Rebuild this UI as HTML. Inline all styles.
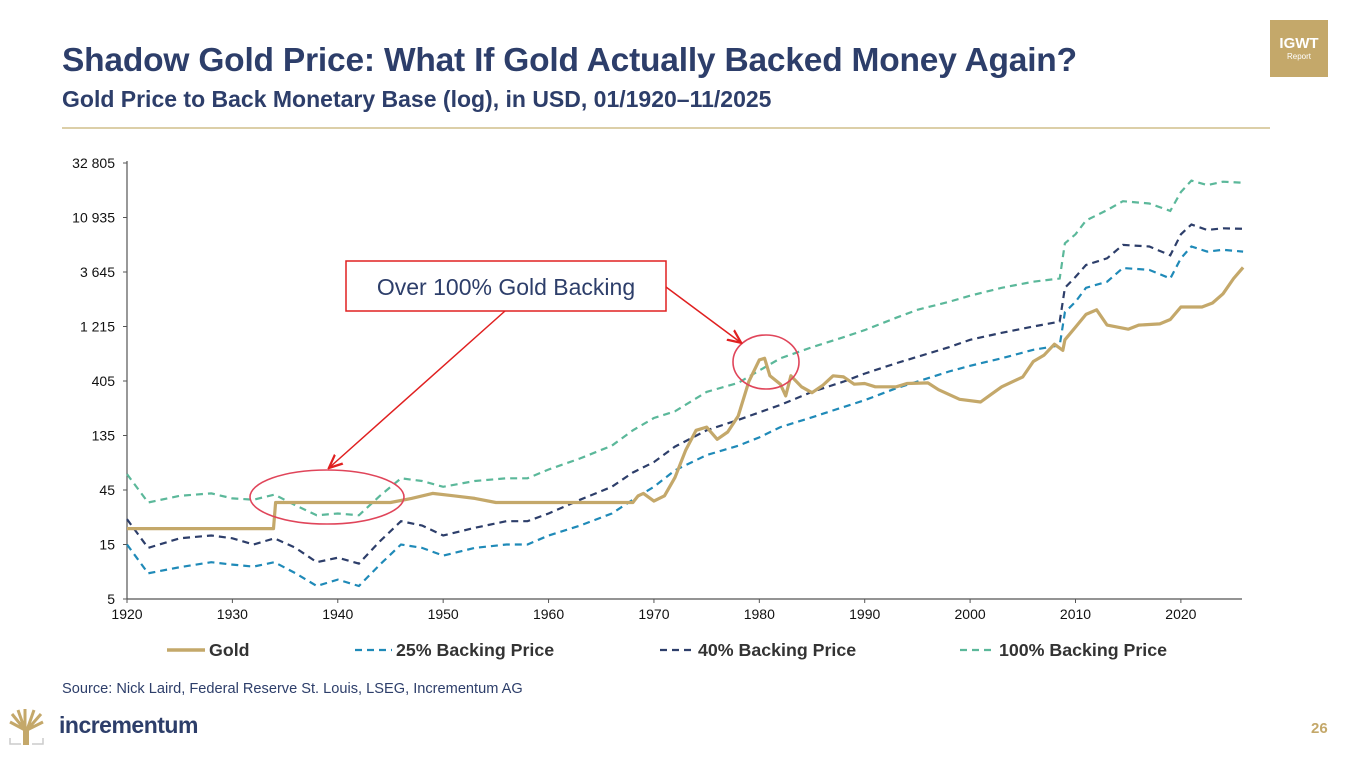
<!DOCTYPE html>
<html><head><meta charset="utf-8">
<style>
body{margin:0;width:1350px;height:760px;background:#fff;overflow:hidden;font-family:"Liberation Sans",Arial,sans-serif;position:relative}
.abs{position:absolute}
</style></head>
<body>
<div class="abs" style="left:62px;top:42px;font-size:33.5px;font-weight:bold;color:#2d3e6a;letter-spacing:-0.2px;white-space:nowrap">Shadow Gold Price: What If Gold Actually Backed Money Again?</div>
<div class="abs" style="left:62px;top:86px;font-size:23px;font-weight:bold;color:#2d3e6a;white-space:nowrap">Gold Price to Back Monetary Base (log), in USD, 01/1920–11/2025</div>
<div class="abs" style="left:62px;top:127px;width:1208px;height:2px;background:#dccfa8"></div>
<div class="abs" style="left:1270px;top:20px;width:58px;height:57px;background:#c4a86a;color:#fff;text-align:center">
  <div style="font-size:15px;font-weight:bold;margin-top:16px;line-height:16px">IGWT</div>
  <div style="font-size:8px;line-height:10px">Report</div>
</div>
<svg class="abs" style="left:0;top:0" width="1350" height="760" id="chart"></svg>
<div class="abs" style="left:62px;top:681px;font-size:14.6px;color:#2d3e6a;white-space:nowrap">Source: Nick Laird, Federal Reserve St. Louis, LSEG, Incrementum AG</div>
<svg class="abs" style="left:8px;top:708px" width="38" height="38">
  <path d="M17 36 L17 22 L4 6 M17 22 L10 2 M17 22 L17 1 M19 22 L26 2 M19 22 L33 6 M17 22 L2 14 M19 22 L35 14" stroke="#c4a86a" stroke-width="3" fill="none"/>
  <rect x="15" y="20" width="6" height="17" fill="#c4a86a"/>
  <path d="M2 30 L2 36 L13 36 M24 36 L35 36 L35 30" stroke="#ccc" stroke-width="1.5" fill="none"/>
</svg>
<div class="abs" style="left:59px;top:712px;font-size:23px;font-weight:bold;color:#2d3e6a;letter-spacing:-0.5px">incrementum</div>
<div class="abs" style="left:1311px;top:720px;font-size:15px;font-weight:bold;color:#c4a86a">26</div>
<script>
const years=[1920,1922,1925,1928,1930,1932,1934,1936,1938,1940,1942,1944,1946,1948,1950,1953,1956,1958,1960,1963,1966,1968,1970,1972,1975,1978,1980,1982,1985,1988,1990,1993,1995,1998,2000,2003,2006,2008.5,2009,2010,2011,2013,2014.5,2017,2019,2020,2021,2022.5,2024,2025.9];
const back100=[62,35,40,42,38,37,41,33,27,28,27,40,57,54,48,54,57,57,68,85,110,150,192,220,325,390,500,640,800,980,1130,1450,1700,2000,2260,2650,3000,3200,6500,7800,10300,12700,15200,14500,12500,18300,23000,21000,22500,22000];
const back40=[25,14,17,18,17,15,17,14,10.5,11.5,10.2,16,24,22,18,21,24,24,28,37,48,64,79,108,150,185,215,250,325,400,470,580,660,800,930,1070,1215,1340,2650,3300,4200,4800,6300,6100,5100,7800,9500,8500,8800,8700];
const back25=[15,8.4,9.5,10.5,10,9.6,10.5,8.4,6.5,7.4,6.5,10,15,14,12,14,15,15,18,22,28,37,48,67,91,110,130,160,195,240,275,350,400,490,550,640,760,830,1620,2000,2650,3000,3950,3800,3200,4800,6100,5500,5700,5500];
const goldYears=[1920,1933.9,1934.1,1945,1947,1949,1951,1953,1955,1968,1968.5,1969,1970,1971,1972,1973,1974,1975,1976,1977,1978,1979,1980,1980.5,1981,1982,1982.5,1983,1984,1985,1986,1987,1988,1989,1990,1991,1993,1994,1996,1997,1999,2001,2002,2003,2005,2006,2007,2008,2008.8,2009,2010,2011,2012,2013,2015,2016,2018,2019,2020,2021,2022,2023,2024,2025,2025.9];
const gold=[20.67,20.67,35,35,38,42,40,38,35,35,40,42,36,40,58,100,150,160,125,145,200,400,620,640,450,380,300,450,360,320,370,450,440,380,385,360,360,385,390,340,280,265,310,360,440,600,680,850,750,930,1200,1550,1700,1250,1150,1250,1280,1400,1800,1800,1800,1950,2350,3200,4000];
const yTicks=[5,15,45,135,405,1215,3645,10935,32805];
const yTickLabels=["5","15","45","135","405","1 215","3 645","10 935","32 805"];
const xTicks=[1920,1930,1940,1950,1960,1970,1980,1990,2000,2010,2020];

const svg=document.getElementById('chart');
const NS='http://www.w3.org/2000/svg';
const X0=127,X1=1242,Y0=599,Y1=163;
const xs=y=>X0+(y-1920)*(X1-X0)/(2025.8-1920);
const ys=v=>Y0-(Math.log(v/5)/Math.log(32805/5))*(Y0-Y1);
function el(t,a){const e=document.createElementNS(NS,t);for(const k in a)e.setAttribute(k,a[k]);svg.appendChild(e);return e;}
function txt(x,y,s,a){const e=el('text',Object.assign({x:x,y:y,'font-family':'Liberation Sans, Arial, sans-serif'},a));e.textContent=s;return e;}

let ax=el('line',{x1:X0,y1:Y1-2,x2:X0,y2:Y0,stroke:'#555','stroke-width':1.2});

ax=el('line',{x1:X0,y1:Y0,x2:X1,y2:Y0,stroke:'#555','stroke-width':1.2});

yTicks.forEach((v,i)=>{
  el('line',{x1:X0-4,y1:ys(v),x2:X0,y2:ys(v),stroke:'#555'});
  const t=txt(115,ys(v)+5,yTickLabels[i],{'font-size':14,'text-anchor':'end',fill:'#111'});
  
  
});
xTicks.forEach(v=>{
  el('line',{x1:xs(v),y1:Y0,x2:xs(v),y2:Y0+4,stroke:'#555'});
  const t=txt(xs(v),Y0+20,String(v),{'font-size':14,'text-anchor':'middle',fill:'#111'});
  
  
});
function path(xa,va){return xa.map((x,i)=>(i?'L':'M')+xs(x).toFixed(1)+' '+ys(va[i]).toFixed(1)).join(' ');}
let p=el('path',{d:path(years,back100),fill:'none',stroke:'#5bb89a','stroke-width':2.2,'stroke-dasharray':'7 5'});

p=el('path',{d:path(years,back40),fill:'none',stroke:'#2d3e6a','stroke-width':2.2,'stroke-dasharray':'7 5'});

p=el('path',{d:path(years,back25),fill:'none',stroke:'#1f8ab8','stroke-width':2.2,'stroke-dasharray':'7 5'});

p=el('path',{d:path(goldYears,gold),fill:'none',stroke:'#c4a86a','stroke-width':3.2,'stroke-linejoin':'round'});


let a=el('ellipse',{cx:327,cy:497,rx:77,ry:27,fill:'none',stroke:'#e0455a','stroke-width':1.6});

a=el('ellipse',{cx:766,cy:362,rx:33,ry:27,fill:'none',stroke:'#e0455a','stroke-width':1.6});

el('defs',{}).innerHTML='<marker id="ah" markerWidth="10" markerHeight="10" refX="8" refY="5" orient="auto"><path d="M0 1 L9 5 L0 9" fill="none" stroke="#e02020" stroke-width="1.5"/></marker>';
a=el('line',{x1:505,y1:311,x2:330,y2:467,stroke:'#e02020','stroke-width':1.5,'marker-end':'url(#ah)'});

a=el('line',{x1:666,y1:287,x2:740,y2:342,stroke:'#e02020','stroke-width':1.5,'marker-end':'url(#ah)'});

a=el('rect',{x:346,y:261,width:320,height:50,fill:'#fff',stroke:'#e02020','stroke-width':1.5});

a=txt(506,295,'Over 100% Gold Backing',{'font-size':23,'text-anchor':'middle',fill:'#2d3e6a'});


const leg=[['Gold','#c4a86a',167,209,false],['25% Backing Price','#1f8ab8',355,396,true],['40% Backing Price','#2d3e6a',660,698,true],['100% Backing Price','#5bb89a',960,999,true]];
leg.forEach(l=>{
  const ln=el('line',{x1:l[2],y1:650,x2:l[3]-4,y2:650,stroke:l[1],'stroke-width':l[4]?2.2:3.5,'stroke-dasharray':l[4]?'7 5':'none'});
  
  
  const t=txt(l[3],656,l[0],{'font-size':17.8,'font-weight':'bold',fill:'#333'});
  
  
});
</script>
</body></html>
